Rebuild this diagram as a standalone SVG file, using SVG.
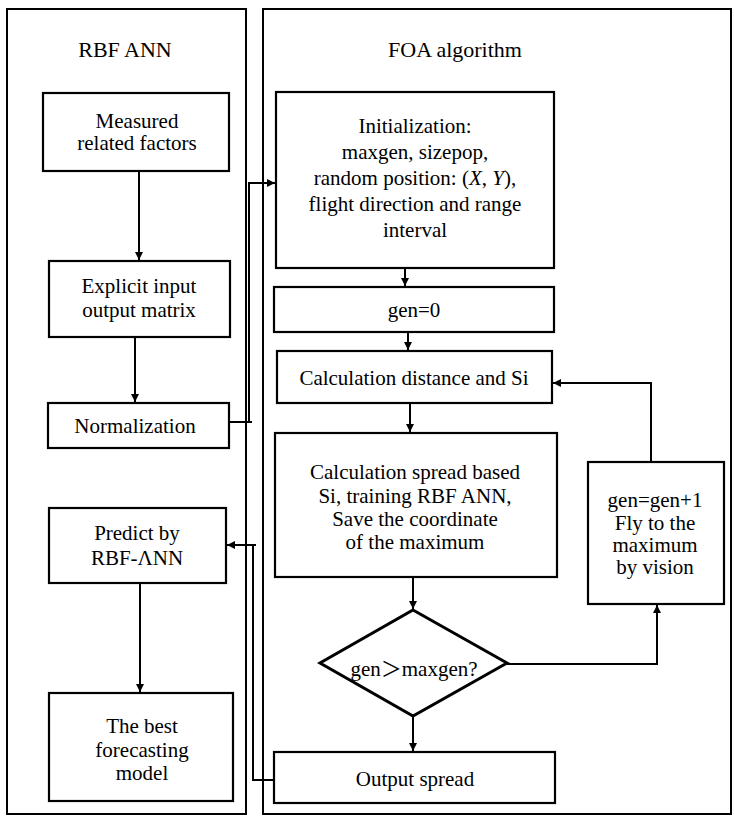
<svg xmlns="http://www.w3.org/2000/svg" width="734" height="816" viewBox="0 0 734 816">
<style>
  .panel{fill:none;stroke:#000;stroke-width:2}
  .box{fill:#fff;stroke:#000;stroke-width:2.2}
  .dia{fill:#fff;stroke:#000;stroke-width:3}
  .ln{fill:none;stroke:#000;stroke-width:2}
  text{font-family:"Liberation Serif","Times New Roman","Noto Sans CJK SC",serif;font-size:21px;fill:#000;text-anchor:middle}
  .title{font-size:22px}
</style>
<defs>
  <marker id="ah" viewBox="0 0 10 10" refX="10" refY="5" markerWidth="4" markerHeight="4" orient="auto" markerUnits="strokeWidth">
    <path d="M0,0 L10,5 L0,10 z" fill="#000"/>
  </marker>
</defs>
<rect width="734" height="816" fill="#fff"/>

<g id="panel-rbf">
  <rect class="panel" x="7" y="9" width="239" height="805"/>
  <text class="title" x="125" y="57">RBF ANN</text>
</g>
<g id="panel-foa">
  <rect class="panel" x="263" y="9" width="468" height="805"/>
  <text class="title" x="455" y="57">FOA algorithm</text>
</g>

<g id="measured">
  <rect class="box" x="43" y="93" width="186" height="78"/>
  <text x="137" y="128">Measured</text>
  <text x="137" y="150">related factors</text>
</g>
<g id="explicit">
  <rect class="box" x="49" y="261" width="181" height="76"/>
  <text x="139" y="293">Explicit input</text>
  <text x="139" y="317">output matrix</text>
</g>
<g id="normalization">
  <rect class="box" x="48" y="403" width="181" height="45"/>
  <text x="135" y="433">Normalization</text>
</g>
<g id="predict">
  <rect class="box" x="49" y="508" width="177" height="75"/>
  <text x="137" y="540">Predict by</text>
  <text x="137" y="565">RBF-ΛNN</text>
</g>
<g id="best">
  <rect class="box" x="49" y="693" width="184" height="108"/>
  <text x="142" y="733">The best</text>
  <text x="142" y="757">forecasting</text>
  <text x="142" y="780">model</text>
</g>

<g id="init">
  <rect class="box" x="276" y="92" width="278" height="176"/>
  <text x="415" y="133">Initialization:</text>
  <text x="415" y="159">maxgen, sizepop,</text>
  <text x="415" y="185">random position: (<tspan font-style="italic">X</tspan>, <tspan font-style="italic">Y</tspan>),</text>
  <text x="415" y="211">flight direction and range</text>
  <text x="415" y="237">interval</text>
</g>
<g id="gen0">
  <rect class="box" x="274" y="287" width="280" height="45"/>
  <text x="414" y="317">gen=0</text>
</g>
<g id="calcdist">
  <rect class="box" x="277" y="351" width="275" height="52"/>
  <text x="414" y="385">Calculation distance and Si</text>
</g>
<g id="spread">
  <rect class="box" x="275" y="433" width="282" height="144"/>
  <text x="415" y="479">Calculation spread based</text>
  <text x="415" y="503">Si, training RBF ANN,</text>
  <text x="415" y="526">Save the coordinate</text>
  <text x="415" y="549">of the maximum</text>
</g>
<g id="decision">
  <polygon class="dia" points="413,610 507,663 413,716 320,663"/>
  <text x="414" y="676">gen＞maxgen?</text>
</g>
<g id="update">
  <rect class="box" x="588" y="462" width="136" height="142"/>
  <text x="655" y="507">gen=gen+1</text>
  <text x="655" y="530">Fly to the</text>
  <text x="655" y="552">maximum</text>
  <text x="655" y="574">by vision</text>
</g>
<g id="output">
  <rect class="box" x="274" y="752" width="281" height="51"/>
  <text x="415" y="786">Output spread</text>
</g>

<g id="connectors">
  <line class="ln" x1="139" y1="171" x2="139" y2="260" marker-end="url(#ah)"/>
  <line class="ln" x1="135" y1="337" x2="135" y2="402" marker-end="url(#ah)"/>
  <line class="ln" x1="140" y1="583" x2="140" y2="692" marker-end="url(#ah)"/>
  <polyline class="ln" points="229,422 252,422"/>
  <polyline class="ln" points="249,422 249,183 275,183" marker-end="url(#ah)"/>
  <line class="ln" x1="256" y1="545" x2="250" y2="545"/>
  <polyline class="ln" points="274,780 253,780 253,545 227,545" marker-end="url(#ah)"/>
  <line class="ln" x1="405" y1="268" x2="405" y2="286" marker-end="url(#ah)"/>
  <line class="ln" x1="408" y1="332" x2="408" y2="350" marker-end="url(#ah)"/>
  <line class="ln" x1="410" y1="403" x2="410" y2="432" marker-end="url(#ah)"/>
  <line class="ln" x1="413" y1="577" x2="413" y2="609" marker-end="url(#ah)"/>
  <line class="ln" x1="413" y1="716" x2="413" y2="751" marker-end="url(#ah)"/>
  <polyline class="ln" points="507,664 657,664 657,605" marker-end="url(#ah)"/>
  <polyline class="ln" points="651,462 651,383 553,383" marker-end="url(#ah)"/>
</g>
</svg>
